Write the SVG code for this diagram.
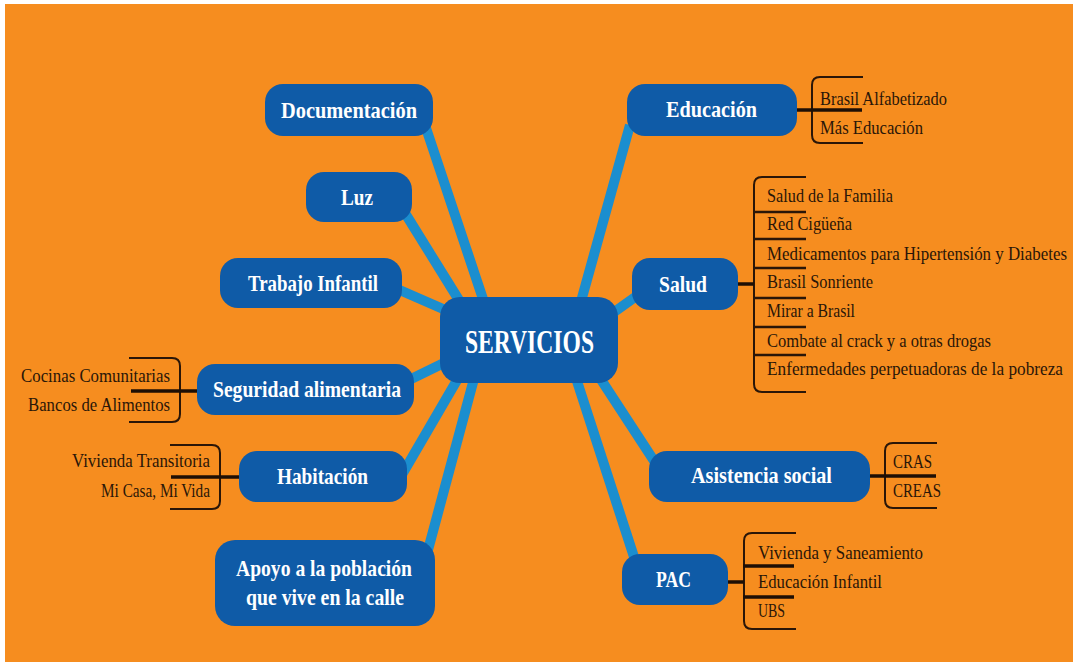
<svg xmlns="http://www.w3.org/2000/svg" width="1073" height="662" viewBox="0 0 1073 662">
<style>
.bg{fill:#F68D1F}
.node{fill:#0F5BA7}
.con line{stroke:#1B8ECF;stroke-width:10;stroke-linecap:butt}
.nt{font-family:"Liberation Serif","DejaVu Serif",serif;font-weight:bold;fill:#ffffff;font-size:24px}
.big{font-size:33px}
.lt{font-family:"Liberation Serif","DejaVu Serif",serif;fill:#2A1608;font-size:19px}
.br{fill:none;stroke:#2A1608;stroke-width:2}
.bl{stroke:#1E0F05;stroke-width:3.5}
.dv{stroke:#2A1608;stroke-width:2.5}
</style>
<rect x="0" y="0" width="1073" height="662" fill="#ffffff"/>
<rect class="bg" x="5" y="4" width="1068" height="658"/>

<g id="connectors" class="con">
<line x1="425" y1="125" x2="485" y2="305"/>
<line x1="400" y1="205" x2="462" y2="305"/>
<line x1="395" y1="288" x2="450" y2="312"/>
<line x1="405" y1="382" x2="450" y2="360"/>
<line x1="400" y1="478" x2="460" y2="375"/>
<line x1="428" y1="550" x2="475" y2="375"/>
<line x1="630" y1="125" x2="580" y2="305"/>
<line x1="645" y1="290" x2="610" y2="315"/>
<line x1="660" y1="470" x2="598" y2="375"/>
<line x1="635" y1="560" x2="575" y2="375"/>
</g>

<g id="servicios">
<rect class="node" x="440" y="297" width="178" height="86" rx="20"/>
<text class="nt big" x="465" y="353" textLength="129" lengthAdjust="spacingAndGlyphs">SERVICIOS</text>
</g>

<g id="documentacion">
<rect class="node" x="265" y="84" width="168" height="52" rx="18"/>
<text class="nt" x="281" y="118" textLength="136" lengthAdjust="spacingAndGlyphs">Documentación</text>
</g>

<g id="luz">
<rect class="node" x="306" y="172" width="106" height="50" rx="18"/>
<text class="nt" x="341" y="205" textLength="32" lengthAdjust="spacingAndGlyphs">Luz</text>
</g>

<g id="trabajo">
<rect class="node" x="220" y="258" width="182" height="50" rx="18"/>
<text class="nt" x="248" y="291" textLength="130" lengthAdjust="spacingAndGlyphs">Trabajo Infantil</text>
</g>

<g id="seguridad">
<rect class="node" x="197" y="364" width="217" height="51" rx="18"/>
<text class="nt" x="213" y="397" textLength="188" lengthAdjust="spacingAndGlyphs">Seguridad alimentaria</text>
<path class="br" d="M129,358 H172 Q180,358 180,366 V414 Q180,422 172,422 H129"/>
<line class="bl" x1="131" y1="391" x2="197" y2="391"/>
<text class="lt" transform="translate(170,382) scale(0.85,1)" text-anchor="end" textLength="175.3" lengthAdjust="spacingAndGlyphs">Cocinas Comunitarias</text>
<text class="lt" transform="translate(170,411) scale(0.85,1)" text-anchor="end" textLength="167" lengthAdjust="spacingAndGlyphs">Bancos de Alimentos</text>
</g>

<g id="habitacion">
<rect class="node" x="239" y="451" width="168" height="51" rx="18"/>
<text class="nt" x="277" y="484" textLength="91" lengthAdjust="spacingAndGlyphs">Habitación</text>
<path class="br" d="M170,445 H212 Q220,445 220,453 V501 Q220,509 212,509 H170"/>
<line class="bl" x1="171" y1="477" x2="239" y2="477"/>
<text class="lt" transform="translate(210,467) scale(0.85,1)" text-anchor="end" textLength="162.4" lengthAdjust="spacingAndGlyphs">Vivienda Transitoria</text>
<text class="lt" transform="translate(210,497) scale(0.85,1)" text-anchor="end" textLength="128.2" lengthAdjust="spacingAndGlyphs">Mi Casa, Mi Vida</text>
</g>

<g id="apoyo">
<rect class="node" x="215" y="540" width="220" height="86" rx="20"/>
<text class="nt" x="236" y="576" textLength="176" lengthAdjust="spacingAndGlyphs">Apoyo a la población</text>
<text class="nt" x="246" y="605" textLength="158" lengthAdjust="spacingAndGlyphs">que vive en la calle</text>
</g>

<g id="educacion">
<rect class="node" x="627" y="84" width="170" height="52" rx="18"/>
<text class="nt" x="666" y="117" textLength="91" lengthAdjust="spacingAndGlyphs">Educación</text>
<path class="br" d="M863,77 H820 Q812,77 812,85 V135 Q812,143 820,143 H863"/>
<line class="bl" x1="797" y1="110" x2="862" y2="110"/>
<text class="lt" transform="translate(820,105) scale(0.85,1)" textLength="149.4" lengthAdjust="spacingAndGlyphs">Brasil Alfabetizado</text>
<text class="lt" transform="translate(820,134) scale(0.85,1)" textLength="121.2" lengthAdjust="spacingAndGlyphs">Más Educación</text>
</g>

<g id="salud">
<rect class="node" x="632" y="258" width="106" height="52" rx="18"/>
<text class="nt" x="659" y="292" textLength="48" lengthAdjust="spacingAndGlyphs">Salud</text>
<path class="br" d="M806,177 H762 Q754,177 754,185 V384 Q754,392 762,392 H806"/>
<line class="bl" x1="738" y1="284" x2="754" y2="284"/>
<line class="dv" x1="754" y1="212" x2="806" y2="212"/>
<line class="dv" x1="754" y1="239" x2="806" y2="239"/>
<line class="dv" x1="754" y1="268" x2="806" y2="268"/>
<line class="dv" x1="754" y1="298" x2="806" y2="298"/>
<line class="dv" x1="754" y1="327" x2="806" y2="327"/>
<line class="dv" x1="754" y1="355" x2="806" y2="355"/>
<text class="lt" transform="translate(767,202) scale(0.85,1)" textLength="148.2" lengthAdjust="spacingAndGlyphs">Salud de la Familia</text>
<text class="lt" transform="translate(767,230) scale(0.85,1)" textLength="100" lengthAdjust="spacingAndGlyphs">Red Cigüeña</text>
<text class="lt" transform="translate(767,260) scale(0.85,1)" textLength="352.9" lengthAdjust="spacingAndGlyphs">Medicamentos para Hipertensión y Diabetes</text>
<text class="lt" transform="translate(767,288) scale(0.85,1)" textLength="124.7" lengthAdjust="spacingAndGlyphs">Brasil Sonriente</text>
<text class="lt" transform="translate(767,317) scale(0.85,1)" textLength="103.5" lengthAdjust="spacingAndGlyphs">Mirar a Brasil</text>
<text class="lt" transform="translate(767,347) scale(0.85,1)" textLength="263.5" lengthAdjust="spacingAndGlyphs">Combate al crack y a otras drogas</text>
<text class="lt" transform="translate(767,375) scale(0.85,1)" textLength="348.2" lengthAdjust="spacingAndGlyphs">Enfermedades perpetuadoras de la pobreza</text>
</g>

<g id="asistencia">
<rect class="node" x="649" y="451" width="221" height="51" rx="18"/>
<text class="nt" x="691" y="483" textLength="141" lengthAdjust="spacingAndGlyphs">Asistencia social</text>
<path class="br" d="M937,443 H893 Q885,443 885,451 V500 Q885,508 893,508 H937"/>
<line class="bl" x1="870" y1="476" x2="936" y2="476"/>
<text class="lt" transform="translate(893,468) scale(0.85,1)" textLength="45.9" lengthAdjust="spacingAndGlyphs">CRAS</text>
<text class="lt" transform="translate(893,497) scale(0.85,1)" textLength="56.5" lengthAdjust="spacingAndGlyphs">CREAS</text>
</g>

<g id="pac">
<rect class="node" x="622" y="554" width="106" height="51" rx="18"/>
<text class="nt" x="656" y="587" textLength="35" lengthAdjust="spacingAndGlyphs">PAC</text>
<path class="br" d="M796,533 H752 Q744,533 744,541 V621 Q744,629 752,629 H796"/>
<line class="bl" x1="728" y1="582" x2="744" y2="582"/>
<line class="bl" x1="743" y1="566" x2="794" y2="566"/>
<line class="bl" x1="743" y1="597" x2="794" y2="597"/>
<text class="lt" transform="translate(758,559) scale(0.85,1)" textLength="194.1" lengthAdjust="spacingAndGlyphs">Vivienda y Saneamiento</text>
<text class="lt" transform="translate(758,588) scale(0.85,1)" textLength="145.9" lengthAdjust="spacingAndGlyphs">Educación Infantil</text>
<text class="lt" transform="translate(758,617) scale(0.85,1)" textLength="31.8" lengthAdjust="spacingAndGlyphs">UBS</text>
</g>
</svg>
